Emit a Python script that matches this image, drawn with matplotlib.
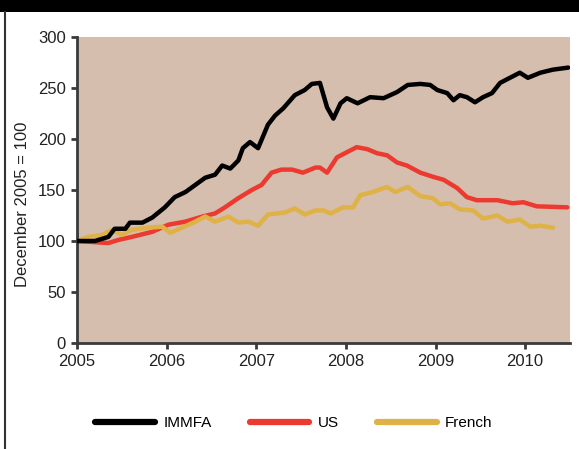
import matplotlib
matplotlib.use("Agg")
import matplotlib.pyplot as plt
from matplotlib.lines import Line2D

# values (decimal year, index with Dec 2005 = 100)
immfa_x = [2005.00, 2005.20, 2005.35, 2005.42, 2005.54, 2005.59, 2005.73, 2005.84,
           2005.98, 2006.09, 2006.21, 2006.32, 2006.43, 2006.54, 2006.62, 2006.71,
           2006.80, 2006.85, 2006.93, 2007.02, 2007.13, 2007.21, 2007.30, 2007.43,
           2007.54, 2007.62, 2007.71, 2007.79, 2007.86, 2007.94, 2008.01, 2008.13,
           2008.27, 2008.42, 2008.57, 2008.69, 2008.83, 2008.94, 2009.02, 2009.13,
           2009.20, 2009.27, 2009.35, 2009.44, 2009.53, 2009.63, 2009.72, 2009.83,
           2009.94, 2010.03, 2010.17, 2010.31, 2010.48]
immfa_y = [100, 100, 104, 112, 112, 118, 118, 123,
           133, 143, 148, 155, 162, 165, 174, 171,
           179, 191, 197, 191, 214, 223, 230, 243,
           248, 254, 255, 231, 220, 235, 240, 235,
           241, 240, 246, 253, 254, 253, 248, 245,
           238, 243, 241, 236, 241, 245, 255, 260,
           265, 260, 265, 268, 270]

us_x = [2005.00, 2005.35, 2005.46, 2005.61, 2005.84, 2006.02, 2006.21, 2006.40,
        2006.54, 2006.65, 2006.80, 2006.95, 2007.06, 2007.17, 2007.28, 2007.40,
        2007.52, 2007.66, 2007.71, 2007.79, 2007.90, 2008.12, 2008.24, 2008.35,
        2008.46, 2008.57, 2008.68, 2008.83, 2008.97, 2009.09, 2009.24, 2009.35,
        2009.46, 2009.69, 2009.86, 2009.98, 2010.13, 2010.47]
us_y = [100, 98, 101, 104, 109, 116, 119, 124,
        127, 133, 142, 150, 155, 167, 170, 170,
        167, 172, 172, 167, 182, 192, 190, 186,
        184, 177, 174, 167, 163, 160, 152, 143,
        140, 140, 137, 138, 134, 133]

french_x = [2005.00, 2005.12, 2005.28, 2005.39, 2005.50, 2005.61, 2005.79, 2005.95,
            2006.04, 2006.17, 2006.32, 2006.43, 2006.54, 2006.69, 2006.80, 2006.91,
            2007.02, 2007.13, 2007.32, 2007.43, 2007.54, 2007.66, 2007.75, 2007.83,
            2007.97, 2008.08, 2008.16, 2008.30, 2008.46, 2008.55, 2008.69, 2008.83,
            2008.97, 2009.05, 2009.16, 2009.27, 2009.42, 2009.53, 2009.69, 2009.80,
            2009.94, 2010.06, 2010.17, 2010.31]
french_y = [100, 104, 106, 111, 106, 111, 113, 114,
            108, 113, 119, 124, 119, 124, 118, 119,
            115, 126, 128, 132, 126, 130, 130, 127,
            133, 133, 145, 148, 153, 148, 153, 144,
            142, 136, 137, 131, 130, 122, 125, 119,
            121, 114, 115, 113]

series_names = ["IMMFA", "US", "French"]
series_colors = ["#000000", "#ec3a30", "#dfb247"]
year_ticks = [2005, 2006, 2007, 2008, 2009, 2010]
y_ticks = [0, 50, 100, 150, 200, 250, 300]

plt.rcParams['font.family'] = ['Liberation Sans', 'DejaVu Sans']
plt.rcParams['font.size'] = 12

fig = plt.figure(figsize=(5.79, 4.49), dpi=100)

# black title band and left frame line
fig.patches.append(plt.Rectangle((0, 1 - 12 / 449), 1, 12 / 449, transform=fig.transFigure,
                                 facecolor="black", edgecolor="none"))
fig.lines.append(Line2D([5 / 579, 5 / 579], [0, 1 - 12 / 449], transform=fig.transFigure,
                        color="#333333", linewidth=1.5))

ax = fig.add_axes([77 / 579, 1 - 343 / 449, 493 / 579, 306 / 449])
ax.set_facecolor("#d5beae")

for xs, ys, name, col in zip([immfa_x, us_x, french_x], [immfa_y, us_y, french_y],
                             series_names, series_colors):
    ax.plot(xs, ys, color=col, linewidth=3.2, label=name, solid_capstyle="round")

ax.lines[0].set_zorder(3)

ax.set_xlim(2005, 2010.5)
ax.set_ylim(0, 300)
ax.set_xticks(year_ticks)
ax.set_xticklabels([str(y) for y in year_ticks])
ax.set_yticks(y_ticks)

for side in ["top", "right"]:
    ax.spines[side].set_visible(False)
for side in ["left", "bottom"]:
    ax.spines[side].set_color("#3a3a3a")
    ax.spines[side].set_linewidth(2)
ax.tick_params(direction="out", length=4, width=2, color="#3a3a3a", labelcolor="#222222", pad=4)

ax.set_ylabel("December 2005 = 100", color="#222222")
ax.yaxis.set_label_coords(-0.095, 0.454)

handles = [Line2D([], [], color=c, linewidth=4.5, solid_capstyle="round") for c in series_colors]
fig.legend(handles, series_names, loc="center", bbox_to_anchor=(294 / 579, 1 - 423 / 449),
           ncol=3, frameon=False, fontsize=11, handlelength=3.9, handletextpad=0.55,
           columnspacing=2.5)

fig.savefig("out.png", dpi=100)
